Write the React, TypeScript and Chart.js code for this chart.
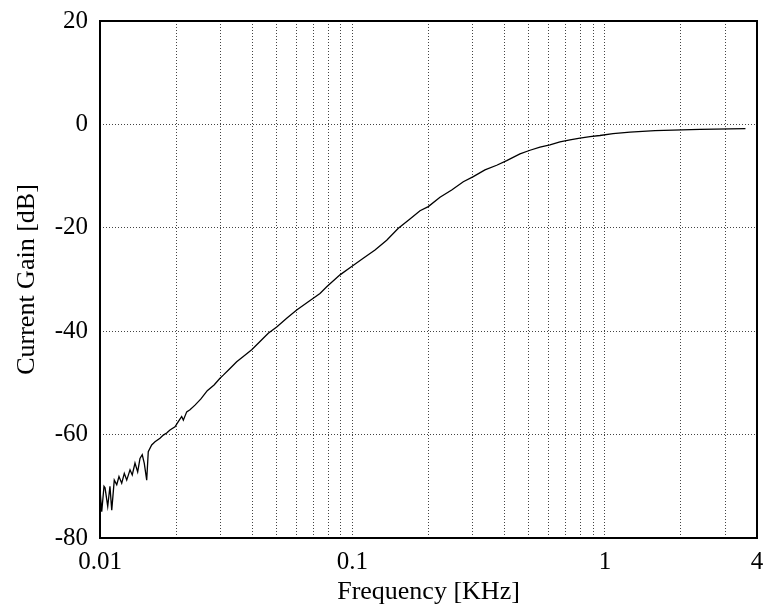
import React, { useEffect, useRef } from 'react';
import { Chart, registerables } from 'chart.js';

Chart.register(...registerables);

// Frequency in KHz
const frequencies = [
  0.01, 0.01016, 0.01037, 0.01047, 0.01073, 0.01095, 0.01113, 0.01139, 0.01165, 0.01189,
  0.01219, 0.01248, 0.01276, 0.01315, 0.01342, 0.01376, 0.0141, 0.0144, 0.0147, 0.01497,
  0.01531, 0.01553, 0.01602, 0.01651, 0.01728, 0.01781, 0.01837, 0.01893, 0.01982, 0.02042,
  0.02106, 0.02138, 0.02205, 0.02272, 0.02378, 0.0251, 0.0266, 0.0283, 0.02987, 0.03078,
  0.03272, 0.03478, 0.03694, 0.03989, 0.04302, 0.04639, 0.0501, 0.05488, 0.06012, 0.06683,
  0.07434, 0.07904, 0.08924, 0.09926, 0.1103, 0.1228, 0.1366, 0.1519, 0.1689, 0.1851,
  0.1996, 0.2221, 0.2471, 0.2747, 0.3009, 0.3347, 0.3725, 0.408, 0.4606, 0.5047,
  0.5528, 0.6055, 0.6633, 0.7266, 0.796, 0.872, 0.955, 1.076, 1.256, 1.578,
  2.378, 3.6,
];

// Current gain in dB
const gains = [
  -70.7, -74.9, -70.0, -70.3, -73.9, -70.0, -74.6, -68.8, -69.7, -68.1,
  -69.4, -67.5, -68.8, -66.8, -67.8, -65.5, -67.2, -64.6, -63.9, -65.5,
  -68.8, -63.3, -62.0, -61.4, -60.7, -60.1, -59.7, -59.1, -58.5, -57.5,
  -56.5, -57.2, -55.6, -55.2, -54.3, -53.1, -51.5, -50.4, -49.1, -48.5,
  -47.2, -45.9, -44.9, -43.6, -42.0, -40.4, -39.2, -37.5, -35.9, -34.3,
  -32.7, -31.4, -29.1, -27.5, -25.9, -24.3, -22.4, -20.1, -18.3, -16.7,
  -15.9, -14.1, -12.7, -11.1, -10.1, -8.8, -7.9, -7.0, -5.7, -5.0,
  -4.4, -3.95, -3.4, -3.0, -2.65, -2.35, -2.15, -1.8, -1.5, -1.2,
  -0.95, -0.83,
];

const xGridTicks = [
  0.01, 0.02, 0.03, 0.04, 0.05, 0.06, 0.07, 0.08, 0.09,
  0.1, 0.2, 0.3, 0.4, 0.5, 0.6, 0.7, 0.8, 0.9,
  1, 2, 3, 4,
];
const xTickLabels = [0.01, 0.1, 1, 4];
const yTicks = [-80, -60, -40, -20, 0, 20];

const FONT = '"Liberation Serif", "Times New Roman", serif';

const framePlugin = {
  id: 'frame',
  afterDatasetsDraw(chart: any) {
    const { ctx, chartArea: a } = chart;
    ctx.save();
    ctx.strokeStyle = '#000';
    ctx.lineWidth = 2;
    ctx.strokeRect(a.left, a.top, a.right - a.left, a.bottom - a.top);
    ctx.restore();
  },
};

export default function App() {
  const ref = useRef<HTMLCanvasElement | null>(null);

  useEffect(() => {
    if (!ref.current) return;
    const chart = new Chart(ref.current, {
      type: 'line',
      data: {
        datasets: [
          {
            data: frequencies.map((f, i) => ({ x: f, y: gains[i] })),
            borderColor: '#000',
            borderWidth: 1.3,
            pointRadius: 0,
            tension: 0,
            fill: false,
          },
        ],
      },
      options: {
        responsive: false,
        animation: false,
        layout: { padding: { left: 0, right: 8, top: 21, bottom: 0 } },
        plugins: {
          legend: { display: false },
          tooltip: { enabled: false },
        },
        scales: {
          x: {
            type: 'logarithmic',
            min: 0.01,
            max: 4,
            afterBuildTicks: (s: any) => {
              s.ticks = xGridTicks.map((v) => ({ value: v }));
            },
            afterFit: (s: any) => {
              s.height = 78;
              s.paddingLeft = 0;
              s.paddingRight = 0;
            },
            ticks: {
              autoSkip: false,
              maxRotation: 0,
              padding: 9,
              color: '#000',
              font: { family: FONT, size: 25 },
              callback: (v: any) => (xTickLabels.includes(Number(v)) ? String(v) : ''),
            },
            grid: { color: '#444', lineWidth: 1, drawTicks: false },
            border: { display: false, dash: [1, 2] },
            title: {
              display: true,
              text: 'Frequency [KHz]',
              color: '#000',
              font: { family: FONT, size: 26 },
              padding: { top: 0, bottom: 8 },
            },
          },
          y: {
            type: 'linear',
            min: -80,
            max: 20,
            afterBuildTicks: (s: any) => {
              s.ticks = yTicks.map((v) => ({ value: v }));
            },
            afterFit: (s: any) => {
              s.width = 100;
              s.paddingTop = 0;
              s.paddingBottom = 0;
            },
            ticks: {
              padding: 12,
              color: '#000',
              font: { family: FONT, size: 25 },
            },
            grid: { color: '#444', lineWidth: 1, drawTicks: false },
            border: { display: false, dash: [1, 2] },
            title: {
              display: true,
              text: 'Current Gain [dB]',
              color: '#000',
              font: { family: FONT, size: 26 },
              padding: { top: 12, bottom: 0 },
            },
          },
        },
      },
      plugins: [framePlugin],
    } as any);
    return () => chart.destroy();
  }, []);

  return (
    <canvas
      ref={ref}
      width={765}
      height={616}
      style={{ position: 'fixed', left: 0, top: 0, width: 765, height: 616 }}
    />
  );
}
